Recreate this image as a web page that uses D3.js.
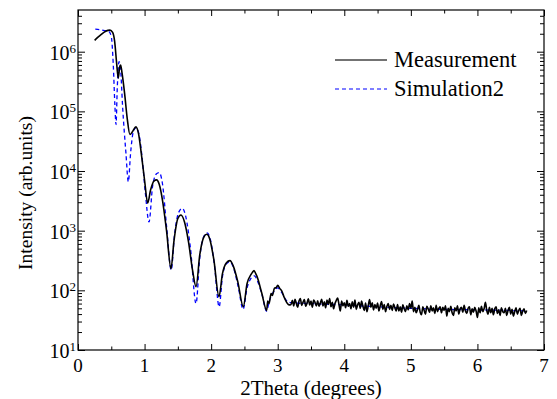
<!DOCTYPE html>
<html>
<head>
<meta charset="utf-8">
<script src="https://cdn.jsdelivr.net/npm/d3@7"></script>
<style>
  body { margin: 0; background: #fff; }
  text { font-family: "Liberation Serif", "Times New Roman", serif; fill: #000; }
</style>
</head>
<body>
<svg id="chart" width="557" height="399"></svg>
<script>
// measured reflectivity, smooth fringe region [2theta, intensity]
const measFringes = [
  [0.25, 1.55e6], [0.30, 1.75e6], [0.35, 1.95e6], [0.40, 2.15e6], [0.45, 2.28e6],
  [0.48, 2.3e6], [0.52, 2.1e6], [0.55, 1.5e6], [0.58, 6.5e5], [0.605, 3.6e5],
  [0.625, 5.5e5], [0.64, 6.0e5], [0.66, 4.5e5], [0.70, 2.0e5], [0.74, 7.5e4],
  [0.78, 4.1e4], [0.82, 4.6e4], [0.87, 5.5e4], [0.91, 4.2e4], [0.95, 2.0e4],
  [1.00, 7.0e3], [1.047, 2.9e3], [1.09, 4.8e3], [1.14, 6.8e3], [1.18, 7.1e3],
  [1.22, 6.0e3], [1.27, 3.2e3], [1.33, 1.0e3], [1.397, 230], [1.44, 650],
  [1.50, 1.6e3], [1.547, 1.83e3], [1.60, 1.4e3], [1.66, 650], [1.72, 220],
  [1.773, 115], [1.83, 400], [1.89, 780], [1.933, 870], [1.98, 720],
  [2.04, 330], [2.118, 78], [2.17, 190], [2.23, 290], [2.283, 315],
  [2.33, 260], [2.40, 140], [2.483, 53], [2.54, 130], [2.60, 185],
  [2.62, 200], [2.644, 215], [2.67, 190], [2.69, 170], [2.76, 90],
  [2.834, 46], [2.85, 66], [2.87, 60], [2.90, 88], [2.92, 82],
  [2.95, 108], [2.98, 112], [3.0, 122], [3.03, 108], [3.06, 98],
  [3.10, 75], [3.17, 57]
];

// measured background tail, sampled every 0.02 from 3.20
const tailStart = 3.20;
const tailStep = 0.02;
const tailValues = [
  58, 68, 55, 71, 60, 52, 66, 73, 56, 63, 70, 54, 61, 72, 57, 66, 52, 69, 63, 55,
  67, 54, 61, 71, 55, 64, 51, 69, 58, 73, 53, 63, 49, 60, 68, 74, 58, 45, 66, 55,
  62, 51, 68, 54, 60, 49, 64, 52, 69, 48, 57, 63, 50, 66, 54, 46, 61, 44, 55, 70,
  52, 62, 47, 58, 50, 61, 45, 55, 65, 48, 58, 44, 54, 60, 48, 56, 46, 59, 51, 45,
  58, 45, 53, 43, 57, 49, 44, 55, 47, 60, 50, 66, 44, 52, 42, 48, 56, 43, 39, 53,
  46, 40, 54, 49, 43, 55, 45, 51, 41, 56, 44, 50, 53, 42, 52, 46, 55, 37, 50, 44,
  54, 42, 38, 51, 45, 55, 40, 49, 52, 43, 56, 45, 41, 50, 53, 39, 49, 43, 52, 45,
  35, 51, 42, 54, 44, 49, 63, 46, 40, 52, 42, 50, 39, 49, 53, 41, 47, 38, 51, 44,
  42, 50, 38, 46, 52, 40, 48, 37, 44, 51, 40, 46, 50, 38, 45, 49, 41, 46
];

// simulation
const simulation = [
  [0.26, 2.4e6], [0.32, 2.35e6], [0.40, 2.25e6], [0.46, 2.2e6], [0.50, 1.8e6],
  [0.53, 6.0e5], [0.555, 1.2e5], [0.571, 6.0e4], [0.59, 2.5e5], [0.616, 6.8e5],
  [0.64, 5.0e5], [0.67, 1.2e5], [0.72, 2.0e4], [0.756, 6.6e3], [0.79, 2.0e4],
  [0.83, 4.5e4], [0.87, 5.3e4], [0.91, 4.4e4], [0.96, 1.8e4], [1.01, 4.5e3],
  [1.067, 1.4e3], [1.12, 5.5e3], [1.18, 9.0e3], [1.22, 9.4e3], [1.27, 6.0e3],
  [1.33, 1.2e3], [1.40, 220], [1.45, 850], [1.51, 2.0e3], [1.567, 2.37e3],
  [1.62, 1.7e3], [1.69, 500], [1.773, 60], [1.83, 360], [1.89, 800],
  [1.94, 920], [1.99, 700], [2.05, 260], [2.12, 53], [2.17, 170],
  [2.23, 280], [2.285, 300], [2.34, 230], [2.41, 110], [2.48, 48],
  [2.54, 110], [2.60, 160], [2.65, 175], [2.70, 140], [2.77, 80],
  [2.83, 45], [2.88, 70], [2.94, 95], [3.00, 110], [3.06, 92],
  [3.12, 70], [3.20, 62], [3.50, 60], [4.00, 57], [4.50, 53],
  [5.00, 50], [5.50, 48], [6.00, 47], [6.50, 46], [6.75, 45]
];

const xMajor = [0, 1, 2, 3, 4, 5, 6, 7];
const xMinor = [0.5, 1.5, 2.5, 3.5, 4.5, 5.5, 6.5];
const yExponents = [1, 2, 3, 4, 5, 6];
const seriesNames = ["Measurement", "Simulation2"];

const measurement = measFringes.concat(tailValues.map((v, i) => [tailStart + i * tailStep, v]));

const margin = { top: 10, right: 13, bottom: 49, left: 78 };
const width = 557 - margin.left - margin.right;
const height = 399 - margin.top - margin.bottom;

const x = d3.scaleLinear().domain([0, 7]).range([0, width]);
const y = d3.scaleLog().domain([10, 5e6]).range([height, 0]);

const svg = d3.select("#chart")
  .append("g")
  .attr("transform", `translate(${margin.left},${margin.top})`);

svg.append("clipPath").attr("id", "clip")
  .append("rect").attr("width", width).attr("height", height);

// minor log ticks: 2..9 in every decade
const yMinor = [];
yExponents.forEach((e) => {
  for (let m = 2; m <= 9; m++) {
    const v = m * Math.pow(10, e);
    if (v < 5e6) yMinor.push(v);
  }
});
const yMajor = yExponents.map((e) => Math.pow(10, e));

function styleAxis(g) {
  g.select(".domain").remove();
  g.selectAll("line").attr("stroke", "#000");
  g.selectAll("text").remove();
}

// ticks, drawn inward on all four sides
svg.append("g").attr("transform", `translate(0,${height})`)
  .call(d3.axisBottom(x).tickValues(xMajor).tickSize(-6)).call(styleAxis);
svg.append("g").attr("transform", `translate(0,${height})`)
  .call(d3.axisBottom(x).tickValues(xMinor).tickSize(-3.5)).call(styleAxis);
svg.append("g")
  .call(d3.axisTop(x).tickValues(xMajor).tickSize(-6)).call(styleAxis);
svg.append("g")
  .call(d3.axisTop(x).tickValues(xMinor).tickSize(-3.5)).call(styleAxis);
svg.append("g")
  .call(d3.axisLeft(y).tickValues(yMajor).tickSize(-7)).call(styleAxis);
svg.append("g")
  .call(d3.axisLeft(y).tickValues(yMinor).tickSize(-4)).call(styleAxis);
svg.append("g").attr("transform", `translate(${width},0)`)
  .call(d3.axisRight(y).tickValues(yMajor).tickSize(-7)).call(styleAxis);
svg.append("g").attr("transform", `translate(${width},0)`)
  .call(d3.axisRight(y).tickValues(yMinor).tickSize(-4)).call(styleAxis);

// frame
svg.append("rect")
  .attr("width", width).attr("height", height)
  .attr("fill", "none").attr("stroke", "#000").attr("stroke-width", 1.2);

// x tick labels
svg.selectAll(".xlab").data(xMajor).enter().append("text")
  .attr("class", "xlab")
  .attr("x", (d) => x(d)).attr("y", height + 22)
  .attr("text-anchor", "middle")
  .style("font-size", "19px")
  .text((d) => d);

// y tick labels 10^n
const ylab = svg.selectAll(".ylab").data(yExponents).enter().append("text")
  .attr("class", "ylab")
  .attr("x", -2).attr("y", (d) => y(Math.pow(10, d)) + 8)
  .attr("text-anchor", "end")
  .style("font-size", "20px");
ylab.append("tspan").text("10");
ylab.append("tspan").attr("dy", -7).style("font-size", "13px").text((d) => d);

// axis titles
svg.append("text")
  .attr("x", width / 2).attr("y", height + 45)
  .attr("text-anchor", "middle")
  .style("font-size", "21px")
  .text("2Theta (degrees)");

svg.append("text")
  .attr("transform", `translate(-46,${183}) rotate(-90)`)
  .attr("text-anchor", "middle")
  .style("font-size", "19.5px")
  .text("Intensity (arb.units)");

const line = d3.line()
  .x((d) => x(d[0]))
  .y((d) => y(d[1]))
  .curve(d3.curveMonotoneX);

const plot = svg.append("g").attr("clip-path", "url(#clip)");

plot.append("path")
  .datum(simulation)
  .attr("d", line)
  .attr("fill", "none")
  .attr("stroke", "#0000ff")
  .attr("stroke-width", 1.3)
  .attr("stroke-dasharray", "4,3");

plot.append("path")
  .datum(measurement)
  .attr("d", line)
  .attr("fill", "none")
  .attr("stroke", "#000")
  .attr("stroke-width", 1.6);

// legend
const legend = svg.append("g").attr("transform", "translate(257,50)");
seriesNames.forEach((name, i) => {
  const yy = i * 29;
  legend.append("line")
    .attr("x1", 0).attr("x2", 52).attr("y1", yy).attr("y2", yy)
    .attr("stroke", i === 0 ? "#444" : "#0000ff")
    .attr("stroke-width", i === 0 ? 1.5 : 1.2)
    .attr("stroke-dasharray", i === 0 ? null : "4,3");
  legend.append("text")
    .attr("x", 59).attr("y", yy + 7)
    .style("font-size", "22.5px")
    .text(name);
});
</script>
</body>
</html>
